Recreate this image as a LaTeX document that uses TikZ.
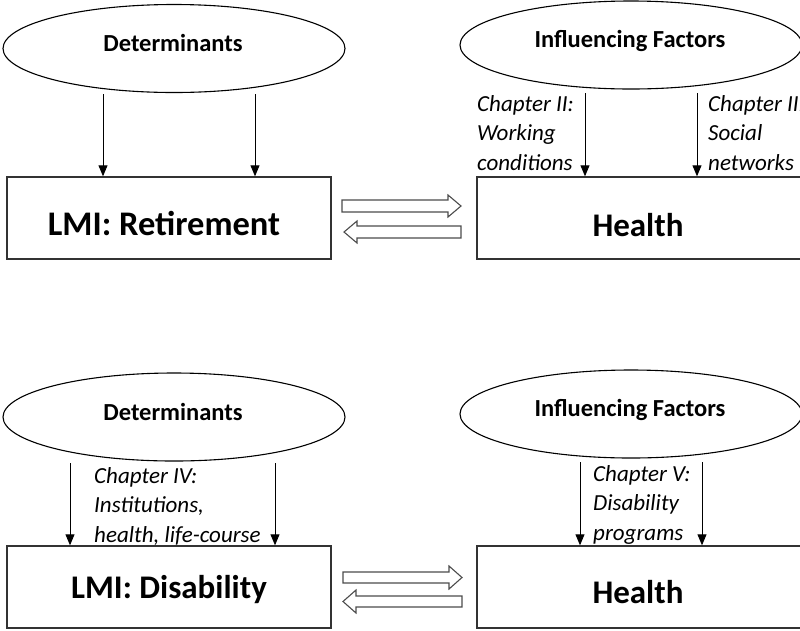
\documentclass[tikz,border=0pt]{standalone}
\usepackage{fontspec}
\setmainfont{Carlito}
\usetikzlibrary{arrows.meta,shapes.geometric}
\begin{document}
\begin{tikzpicture}[x=1pt,y=-1pt,
  ell/.style={draw=black, line width=1.1pt, ellipse, minimum width=342pt, minimum height=88pt, inner sep=0pt},
  box/.style={draw=black!80, line width=1.4pt, rectangle, minimum width=324pt, minimum height=82pt, inner sep=0pt},
  etxt/.style={font=\fontsize{24.5}{28}\selectfont\bfseries, anchor=base, inner sep=0pt},
  btxt/.style={font=\fontsize{33}{38}\selectfont\bfseries, anchor=base, inner sep=0pt},
  ctxt/.style={font=\fontsize{23}{29.5}\selectfont\itshape, align=left, anchor=north west, inner sep=0pt},
  arr/.style={-{Triangle[length=11pt,width=9pt]}, line width=0.9pt, draw=black},
  blk/.style={draw=black!70, line width=1.1pt, fill=white, line join=miter}]
\useasboundingbox (0,0) rectangle (800,630);
\clip (0,0) rectangle (800,630);

% ---------- top row ----------
\node[ell] (e1) at (174,48.5) {};
\node[etxt] (t1) at (173,51) {Determinants};
\node[ell] (e2) at (631,45) {};
\node[etxt] (t2) at (630,47) {Influencing Factors};

\node[box] (b1) at (169,218) {};
\node[btxt, font=\fontsize{34.5}{38}\selectfont\bfseries] (l1) at (164,235) {LMI: Retirement};
\node[box] (b2) at (639,218) {};
\node[btxt] (l2) at (638,236) {Health};

\coordinate (s1) at (103,94);
\coordinate (s2) at (255,94);
\coordinate (s3) at (585,93);
\coordinate (s4) at (697,93);
\draw[arr] (s1) -- (s1 |- b1.north);
\draw[arr] (s2) -- (s2 |- b1.north);
\draw[arr] (s3) -- (s3 |- b2.north);
\draw[arr] (s4) -- (s4 |- b2.north);

\node[ctxt] (c1) at (477,95) {Chapter II:\\Working\\conditions};
\node[ctxt] (c2) at (708,95) {Chapter III:\\Social\\networks};

\draw[blk] (342,200) -- (448,200) -- (448,195) -- (461,206) -- (448,217) -- (448,212) -- (342,212) -- cycle;
\draw[blk] (461,226) -- (357,226) -- (357,221) -- (344,232) -- (357,243) -- (357,238) -- (461,238) -- cycle;

% ---------- bottom row ----------
\node[ell] (e3) at (174,417) {};
\node[etxt] (t3) at (173,420) {Determinants};
\node[ell] (e4) at (631,414) {};
\node[etxt] (t4) at (630,416) {Influencing Factors};

\node[box] (b3) at (169,587) {};
\node[btxt] (l3) at (169,598) {LMI: Disability};
\node[box] (b4) at (639,587) {};
\node[btxt] (l4) at (638,603) {Health};

\coordinate (s5) at (70,463);
\coordinate (s6) at (275,463);
\coordinate (s7) at (580,462);
\coordinate (s8) at (702,462);
\draw[arr] (s5) -- (s5 |- b3.north);
\draw[arr] (s6) -- (s6 |- b3.north);
\draw[arr] (s7) -- (s7 |- b4.north);
\draw[arr] (s8) -- (s8 |- b4.north);

\node[ctxt] (c3) at (94,467) {Chapter IV:\\Institutions,\\health, life-course};
\node[ctxt] (c4) at (593,465) {Chapter V:\\Disability\\programs};

\draw[blk] (343,572) -- (449,572) -- (449,566) -- (462,577.5) -- (449,589) -- (449,583) -- (343,583) -- cycle;
\draw[blk] (462,596) -- (356,596) -- (356,590) -- (343,601.5) -- (356,613) -- (356,607) -- (462,607) -- cycle;
\end{tikzpicture}
\end{document}
